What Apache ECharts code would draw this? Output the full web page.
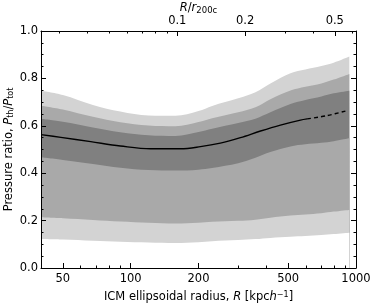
<!DOCTYPE html>
<html><head><meta charset="utf-8">
<script src="https://cdn.jsdelivr.net/npm/echarts@6/dist/echarts.min.js"></script>
<style>html,body{margin:0;padding:0;background:#fff}#c{width:374px;height:305px}</style>
</head><body><div id="c"></div>
<script>
// ICM ellipsoidal radius R [kpc/h] for the percentile bands
const radius = [40, 50, 68, 90, 120, 158, 200, 230, 300, 358, 417, 512, 596, 702, 796, 934];
// percentile bands of P_th/P_tot
const lightUpper = [0.748, 0.730, 0.688, 0.660, 0.643, 0.642, 0.662, 0.684, 0.716, 0.742, 0.779, 0.822, 0.838, 0.852, 0.866, 0.892];
const midUpper   = [0.685, 0.669, 0.638, 0.615, 0.601, 0.598, 0.616, 0.632, 0.657, 0.678, 0.712, 0.749, 0.765, 0.779, 0.795, 0.819];
const darkUpper  = [0.630, 0.617, 0.593, 0.573, 0.560, 0.557, 0.574, 0.588, 0.612, 0.630, 0.657, 0.692, 0.709, 0.724, 0.737, 0.748];
const darkLower  = [0.467, 0.456, 0.439, 0.423, 0.413, 0.411, 0.415, 0.422, 0.442, 0.465, 0.489, 0.513, 0.522, 0.528, 0.535, 0.547];
const midLower   = [0.214, 0.210, 0.203, 0.196, 0.191, 0.188, 0.191, 0.195, 0.199, 0.204, 0.212, 0.221, 0.226, 0.231, 0.238, 0.245];
const lightLower = [0.122, 0.120, 0.115, 0.111, 0.108, 0.106, 0.109, 0.113, 0.118, 0.122, 0.127, 0.132, 0.135, 0.139, 0.143, 0.149];
// median profile
const medianRadius = [40, 49, 66.5, 90, 122.6, 166.5, 204, 250, 307, 377, 462, 567, 607, 744, 912];
const medianValue  = [0.563, 0.551, 0.533, 0.515, 0.503, 0.503, 0.512, 0.527, 0.550, 0.578, 0.603, 0.624, 0.629, 0.643, 0.664];
const solidEndIndex = 12; // median drawn solid up to this point, dashed beyond

const bottomTicks = [50, 100, 200, 500, 1000];
const bottomMinor = [60, 70, 80, 90, 300, 400, 600, 700, 800, 900];
const topTicks = [0.1, 0.2, 0.5];
const topMinor = [0.03, 0.04, 0.05, 0.06, 0.07, 0.08, 0.09, 0.3, 0.4, 0.6];
const r200c = 1610;
const xMin = 40, xMax = 1000;

const FONT = 'DejaVu Sans';
const FS = 11.5;
const C_LIGHT = '#d3d3d3', C_MID = '#a9a9a9', C_DARK = '#808080';

const pairs = arr => radius.map((r, i) => [r, arr[i]]);
const medPairs = medianRadius.map((r, i) => [r, medianValue[i]]);

function area(arr, color, z) {
  return {
    type: 'line', data: pairs(arr), smooth: 0.35, symbol: 'none',
    lineStyle: { width: 0 }, areaStyle: { color: color, opacity: 1, origin: 'start' },
    z: z, silent: true, animation: false
  };
}

const axisLineStyle = { color: '#000', width: 1 };
const richBase = {
  n: { fontSize: FS, fontFamily: FONT, color: '#000' },
  i: { fontSize: FS, fontFamily: FONT, fontStyle: 'italic', color: '#000' }
};

const chart = echarts.init(document.getElementById('c'), null, { renderer: 'canvas' });
chart.setOption({
  animation: false,
  textStyle: { fontFamily: FONT },
  grid: { left: 41, right: 18, top: 31, bottom: 37, show: false, containLabel: false, outerBoundsMode: 'none' },
  xAxis: [
    { type: 'log', min: xMin, max: xMax, position: 'bottom', z: 10,
      axisLine: { show: true, lineStyle: axisLineStyle },
      axisTick: { show: true, inside: true, length: 5, customValues: bottomTicks, lineStyle: axisLineStyle },
      axisLabel: { show: true, customValues: bottomTicks, color: '#000', fontSize: FS, margin: 5, fontFamily: FONT,
                   hideOverlap: false, formatter: v => String(Math.round(v)) },
      splitLine: { show: false },
      name: '{n|ICM ellipsoidal radius, }{i|R}{n| [kpc}{i|h}{s|−1}{n|]}',
      nameLocation: 'middle', nameGap: 23, nameMoveOverlap: false,
      nameTextStyle: { rich: Object.assign({}, richBase, {
        s: { fontSize: 8, fontFamily: FONT, color: '#000', verticalAlign: 'top', padding: [0, 0, 5, 0] } }) }
    },
    { type: 'log', min: xMin, max: xMax, position: 'bottom', z: 10,
      axisLine: { show: false },
      axisTick: { show: true, inside: true, length: 2.5, customValues: bottomMinor, lineStyle: axisLineStyle },
      axisLabel: { show: false }, splitLine: { show: false } },
    { type: 'log', min: xMin / r200c, max: xMax / r200c, position: 'top', z: 10,
      axisLine: { show: true, lineStyle: axisLineStyle },
      axisTick: { show: true, inside: true, length: 5, customValues: topTicks, lineStyle: axisLineStyle },
      axisLabel: { show: true, customValues: topTicks, color: '#000', fontSize: FS, margin: 4, fontFamily: FONT,
                   formatter: v => String(v) },
      splitLine: { show: false },
      name: '{i|R}{n|/}{i|r}{s|200c}',
      nameLocation: 'middle', nameGap: 16, nameMoveOverlap: false,
      nameTextStyle: { rich: Object.assign({}, richBase, {
        s: { fontSize: 8.5, fontFamily: FONT, color: '#000', verticalAlign: 'bottom', padding: [4, 0, 0, 0] } }) }
    },
    { type: 'log', min: xMin / r200c, max: xMax / r200c, position: 'top', z: 10,
      axisLine: { show: false },
      axisTick: { show: true, inside: true, length: 2.5, customValues: topMinor, lineStyle: axisLineStyle },
      axisLabel: { show: false }, splitLine: { show: false } }
  ],
  yAxis: [
    { type: 'value', min: 0, max: 1, interval: 0.2, position: 'left', z: 10,
      axisLine: { show: true, lineStyle: axisLineStyle },
      axisTick: { show: true, inside: true, length: 5, lineStyle: axisLineStyle },
      minorTick: { show: true, splitNumber: 4, length: 2.5, lineStyle: axisLineStyle },
      axisLabel: { color: '#000', fontSize: FS, margin: 3, fontFamily: FONT, formatter: v => v.toFixed(1) },
      splitLine: { show: false },
      name: '{n|Pressure ratio, }{i|P}{s|th}{n|/}{i|P}{s|tot}',
      nameLocation: 'middle', nameGap: 26, nameRotate: 90, nameMoveOverlap: false,
      nameTextStyle: { rich: Object.assign({}, richBase, {
        s: { fontSize: 8, fontFamily: FONT, color: '#000', verticalAlign: 'bottom', padding: [4, 0, 0, 0] } }) }
    },
    { type: 'value', min: 0, max: 1, interval: 0.2, position: 'right', z: 10,
      axisLine: { show: true, lineStyle: axisLineStyle },
      axisTick: { show: true, inside: true, length: 5, lineStyle: axisLineStyle },
      minorTick: { show: true, splitNumber: 4, length: 2.5, lineStyle: axisLineStyle },
      axisLabel: { show: false }, splitLine: { show: false } }
  ],
  series: [
    area(lightUpper, C_LIGHT, 1),
    area(midUpper, C_MID, 2),
    area(darkUpper, C_DARK, 3),
    area(darkLower, C_MID, 4),
    area(midLower, C_LIGHT, 5),
    area(lightLower, '#ffffff', 6),
    { type: 'line', data: medPairs.slice(0, solidEndIndex + 1), smooth: 0.35, symbol: 'none',
      lineStyle: { color: '#000', width: 1.4 }, z: 8, animation: false },
    { type: 'line', data: medPairs.slice(solidEndIndex), smooth: 0.35, symbol: 'none',
      lineStyle: { color: '#000', width: 1.4, type: [4, 3] }, z: 8, animation: false }
  ]
});
</script></body></html>
